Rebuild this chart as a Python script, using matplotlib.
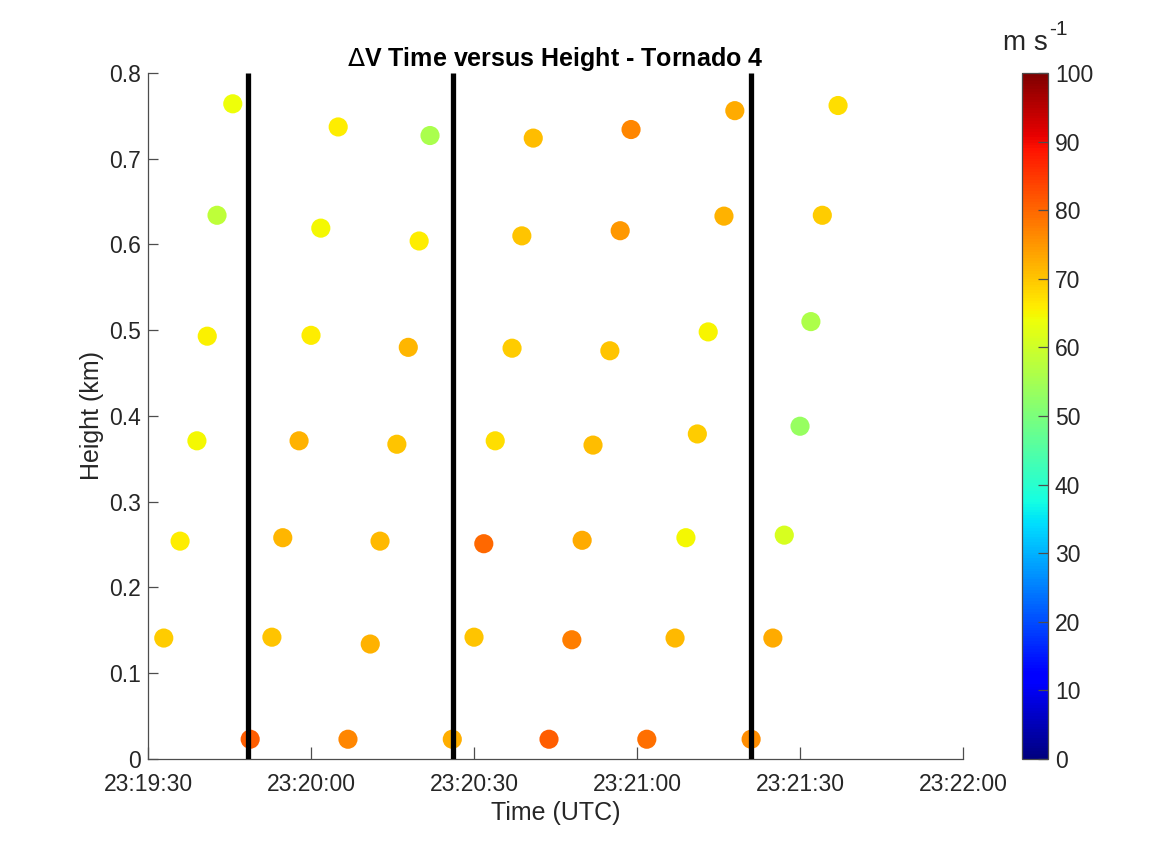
import numpy as np
import matplotlib
matplotlib.use("Agg")
import matplotlib.pyplot as plt
from matplotlib.ticker import FuncFormatter, MultipleLocator

plt.rcParams['font.family'] = ['Liberation Sans', 'DejaVu Sans']

# seconds after 23:19:30 UTC, heights in km, delta-V in m/s (one list per sweep)
sweep_times = [
    [2.9, 5.9, 9.0, 10.9, 12.7, 15.6],
    [18.8, 22.8, 24.8, 27.8, 30.0, 31.8, 35.0],
    [36.8, 40.9, 42.7, 45.8, 47.9, 49.9, 51.9],
    [56.0, 60.0, 61.8, 63.9, 67.0, 68.8, 70.9],
    [73.8, 78.0, 79.9, 81.9, 85.0, 86.9, 88.9],
    [91.8, 97.0, 99.0, 101.1, 103.1, 106.0, 108.0],
    [111.0, 115.0, 117.1, 120.0, 122.0, 124.1, 127.0],
]
sweep_heights = [
    [0.141, 0.254, 0.371, 0.493, 0.634, 0.764],
    [0.023, 0.142, 0.258, 0.371, 0.494, 0.619, 0.737],
    [0.023, 0.134, 0.254, 0.367, 0.480, 0.604, 0.727],
    [0.023, 0.142, 0.251, 0.371, 0.479, 0.610, 0.724],
    [0.023, 0.139, 0.255, 0.366, 0.476, 0.616, 0.734],
    [0.023, 0.141, 0.258, 0.379, 0.498, 0.633, 0.756],
    [0.023, 0.141, 0.261, 0.388, 0.510, 0.634, 0.762],
]
sweep_dv = [
    [69.4, 66.0, 64.5, 65.4, 58.0, 64.0],
    [81.0, 70.0, 71.5, 72.0, 66.0, 64.5, 65.9],
    [76.7, 72.0, 71.3, 70.0, 71.5, 66.0, 55.7],
    [72.6, 70.0, 80.0, 67.2, 69.4, 70.0, 71.0],
    [81.0, 77.5, 73.0, 71.0, 70.0, 74.8, 76.7],
    [79.0, 71.3, 64.5, 69.4, 65.0, 72.0, 73.0],
    [76.0, 73.0, 61.0, 53.5, 56.0, 69.4, 67.2],
]
# sweep boundaries, seconds after 23:19:30
boundaries = [18.4, 56.1, 111.0]

x_ticks = [0, 30, 60, 90, 120, 150]
base_h, base_m, base_s = 23, 19, 30


def fmt_time(sec, pos=None):
    total = base_h * 3600 + base_m * 60 + base_s + int(round(sec))
    return f"{total // 3600:02d}:{(total % 3600) // 60:02d}:{total % 60:02d}"


t = np.concatenate([np.array(s) for s in sweep_times])
h = np.concatenate([np.array(s) for s in sweep_heights])
dv = np.concatenate([np.array(s) for s in sweep_dv])

axis_grey = '#4d4d4d'
text_grey = '#262626'

fig = plt.figure(figsize=(11.72, 8.48), dpi=100)
ax = fig.add_axes([0.1263, 0.105, 0.6954, 0.809])
cax = fig.add_axes([0.872, 0.105, 0.0222, 0.809])

sc = ax.scatter(t, h, c=dv, cmap='jet', vmin=0, vmax=100, s=190,
                edgecolors='none', zorder=2)
ax.vlines(boundaries, 0, 0.8, colors='black', linewidth=3.8, zorder=3)

ax.set_xlim(0, 150)
ax.set_ylim(0, 0.8)
ax.set_xticks(x_ticks)
ax.xaxis.set_major_formatter(FuncFormatter(fmt_time))
ax.yaxis.set_major_locator(MultipleLocator(0.1))
ax.yaxis.set_major_formatter(FuncFormatter(lambda v, p: f"{v:g}"))

for side in ('top', 'right'):
    ax.spines[side].set_visible(False)
for side in ('left', 'bottom'):
    ax.spines[side].set_color(axis_grey)
    ax.spines[side].set_linewidth(0.9)
ax.tick_params(axis='x', direction='in', length=9, width=0.9, color=axis_grey,
               labelsize=16.5, labelcolor=text_grey, pad=10)
ax.tick_params(axis='y', direction='in', length=7, width=0.9, color=axis_grey,
               labelsize=16.5, labelcolor=text_grey, pad=5)

ax.set_xlabel('Time (UTC)', fontsize=18, color=text_grey, labelpad=4)
ax.set_ylabel('Height (km)', fontsize=18, color=text_grey, labelpad=4)
ax.set_title(r'$\Delta$V Time versus Height - Tornado 4', fontsize=18,
             fontweight='bold', pad=4)

cb = fig.colorbar(sc, cax=cax)
cb.set_ticks(np.arange(0, 101, 10))
cb.outline.set_edgecolor(axis_grey)
cb.outline.set_linewidth(0.9)
cb.ax.tick_params(direction='in', length=7, width=0.9, color=axis_grey,
                  labelsize=16.5, labelcolor=text_grey, pad=5)

# colorbar units: "m s" with a raised "-1"
fig.text(0.894, 0.934, 'm s', fontsize=20, ha='right', va='bottom',
         color=text_grey)
fig.text(0.895, 0.954, '-1', fontsize=15, ha='left', va='bottom',
         color=text_grey)

fig.savefig('out.png', dpi=100)
